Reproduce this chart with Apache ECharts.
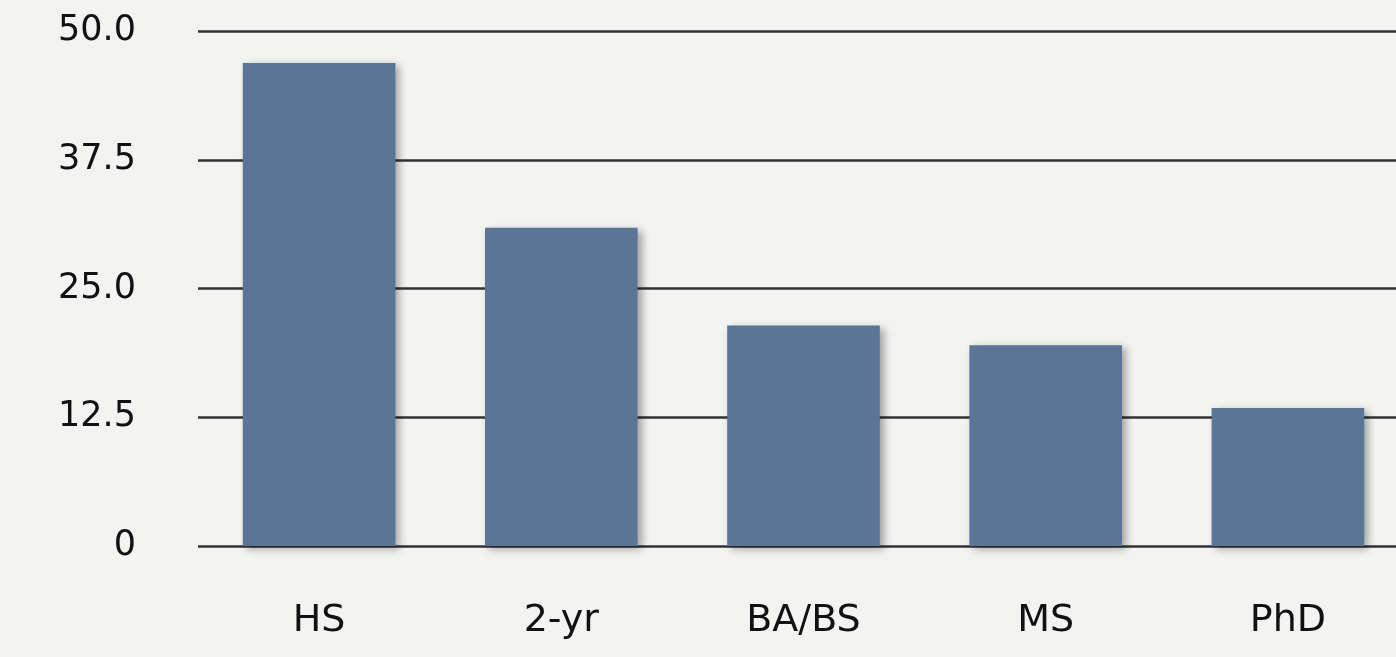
<!DOCTYPE html>
<html>
<head>
<meta charset="utf-8">
<script src="https://cdn.jsdelivr.net/npm/echarts@6/dist/echarts.min.js"></script>
<style>
  html, body { margin: 0; padding: 0; background: #f3f3f2; }
  #chart { width: 1396px; height: 657px; }
</style>
</head>
<body>
<div id="chart"></div>
<script>
// data
var categories = ['HS', '2-yr', 'BA/BS', 'MS', 'PhD'];
var values = [46.9, 30.9, 21.4, 19.5, 13.4];
var yTickLabels = { 0: '0', 12.5: '12.5', 25: '25.0', 37.5: '37.5', 50: '50.0' };

var chart = echarts.init(document.getElementById('chart'));

chart.setOption({
    backgroundColor: '#f3f3f2',
    animation: false,
    grid: {
        left: 198,
        top: 31,
        bottom: 111,
        width: 1211,
        outerBoundsMode: 'none'
    },
    xAxis: {
        type: 'category',
        data: categories,
        axisLine: { show: false },
        axisTick: { show: false },
        axisLabel: {
            margin: 56,
            color: '#111',
            fontFamily: 'DejaVu Sans',
            fontSize: 38
        }
    },
    yAxis: {
        type: 'value',
        min: 0,
        max: 50,
        interval: 12.5,
        axisLine: { show: false },
        axisTick: { show: false },
        splitLine: {
            lineStyle: { color: '#333', width: 2.5 }
        },
        axisLabel: {
            margin: 62,
            color: '#111',
            fontFamily: 'DejaVu Sans',
            fontSize: 35,
            formatter: function (v) { return yTickLabels[v]; }
        }
    },
    series: [{
        type: 'bar',
        data: values,
        barWidth: '63%',
        itemStyle: {
            color: '#5a7595',
            shadowColor: 'rgba(0, 0, 0, 0.35)',
            shadowBlur: 8,
            shadowOffsetX: 4,
            shadowOffsetY: 3
        }
    }]
});
</script>
</body>
</html>
